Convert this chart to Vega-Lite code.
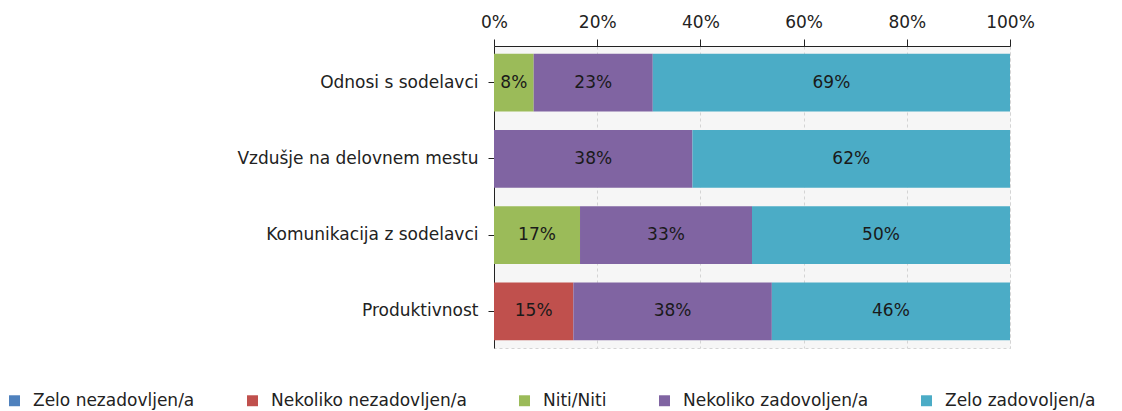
{
  "$schema": "https://vega.github.io/schema/vega-lite/v6.json",
  "autosize": "none",
  "width": 516,
  "height": 302,
  "padding": {"left": 494, "top": 46, "right": 112, "bottom": 63},
  "background": "white",
  "config": {
    "font": "DejaVu Sans",
    "view": {"fill": "#f6f6f6", "stroke": "#d4d4d4", "strokeDash": [3, 3]}
  },
  "data": {
    "values": [
      {"cat": "Odnosi s sodelavci", "seg": "Niti/Niti", "k": 3, "v": 0.0769},
      {"cat": "Odnosi s sodelavci", "seg": "Nekoliko zadovoljen/a", "k": 4, "v": 0.2308},
      {"cat": "Odnosi s sodelavci", "seg": "Zelo zadovoljen/a", "k": 5, "v": 0.6923},
      {"cat": "Vzdušje na delovnem mestu", "seg": "Nekoliko zadovoljen/a", "k": 4, "v": 0.3846},
      {"cat": "Vzdušje na delovnem mestu", "seg": "Zelo zadovoljen/a", "k": 5, "v": 0.6154},
      {"cat": "Komunikacija z sodelavci", "seg": "Niti/Niti", "k": 3, "v": 0.1667},
      {"cat": "Komunikacija z sodelavci", "seg": "Nekoliko zadovoljen/a", "k": 4, "v": 0.3333},
      {"cat": "Komunikacija z sodelavci", "seg": "Zelo zadovoljen/a", "k": 5, "v": 0.5},
      {"cat": "Produktivnost", "seg": "Nekoliko nezadovljen/a", "k": 2, "v": 0.1538},
      {"cat": "Produktivnost", "seg": "Nekoliko zadovoljen/a", "k": 4, "v": 0.3846},
      {"cat": "Produktivnost", "seg": "Zelo zadovoljen/a", "k": 5, "v": 0.4615}
    ]
  },
  "transform": [
    {"stack": "v", "groupby": ["cat"], "sort": [{"field": "k", "order": "ascending"}], "as": ["lo", "hi"], "offset": "normalize"}
  ],
  "encoding": {
    "y": {
      "field": "cat",
      "type": "nominal",
      "sort": ["Odnosi s sodelavci", "Vzdušje na delovnem mestu", "Komunikacija z sodelavci", "Produktivnost"],
      "scale": {"paddingInner": 0.24, "paddingOuter": 0.1},
      "axis": {
        "title": null,
        "labelFontSize": 17,
        "labelColor": "#222222",
        "labelPadding": 10,
        "tickSize": 6,
        "tickColor": "#222222",
        "domainColor": "#222222",
        "labelLimit": 400
      }
    }
  },
  "layer": [
    {
      "mark": {"type": "bar"},
      "encoding": {
        "x": {
          "field": "lo",
          "type": "quantitative",
          "scale": {"domain": [0, 1], "nice": false},
          "axis": {
            "orient": "top",
            "title": null,
            "values": [0, 0.2, 0.4, 0.6, 0.8, 1],
            "format": ".0%",
            "labelFontSize": 17,
            "labelColor": "#222222",
            "labelPadding": 8,
            "tickSize": 7,
            "tickColor": "#222222",
            "domainColor": "#222222",
            "grid": true,
            "gridColor": "#d4d4d4",
            "gridDash": [3, 3],
            "labelFlush": false
          }
        },
        "x2": {"field": "hi"},
        "color": {
          "field": "seg",
          "type": "nominal",
          "scale": {
            "domain": ["Zelo nezadovljen/a", "Nekoliko nezadovljen/a", "Niti/Niti", "Nekoliko zadovoljen/a", "Zelo zadovoljen/a"],
            "range": ["#4f81bd", "#c0504d", "#9bbb59", "#8064a2", "#4bacc6"]
          },
          "legend": {
            "title": null,
            "orient": "none",
            "direction": "horizontal",
            "columns": 5,
            "legendX": -488,
            "legendY": 346,
            "symbolType": "square",
            "symbolSize": 120,
            "symbolStrokeWidth": 0,
            "symbolOpacity": 1,
            "labelFontSize": 17,
            "labelColor": "#222222",
            "labelOffset": 10,
            "columnPadding": 49,
            "labelLimit": 400,
            "padding": 0
          }
        }
      }
    },
    {
      "transform": [
        {"fold": ["lo", "hi"], "as": ["edge", "pos"]},
        {"aggregate": [{"op": "mean", "field": "pos", "as": "mid"}], "groupby": ["cat", "seg", "v"]}
      ],
      "mark": {"type": "text", "fontSize": 17, "color": "#1a1a1a", "baseline": "middle"},
      "encoding": {
        "x": {"field": "mid", "type": "quantitative"},
        "text": {"field": "v", "type": "quantitative", "format": ".0%"}
      }
    }
  ]
}
